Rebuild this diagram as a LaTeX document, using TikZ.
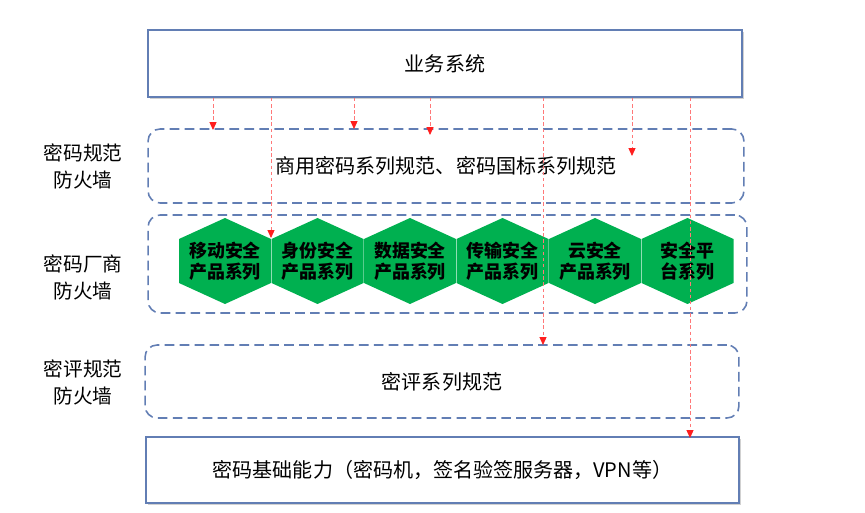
\documentclass[tikz,border=0pt]{standalone}
\usepackage{fontspec}
\setmainfont{Noto Sans CJK SC}
\usetikzlibrary{arrows.meta,shadows}
\definecolor{boxblue}{RGB}{98,126,180}
\definecolor{hexgreen}{RGB}{0,176,80}
\definecolor{arrowred}{RGB}{255,30,30}

\begin{document}
\begin{tikzpicture}[x=0.02cm,y=-0.02cm,font=\fontsize{11.4}{15}\selectfont]
    \tikzset{
        sysbox/.style={draw=boxblue,line width=1pt,fill=white,
            drop shadow={shadow xshift=1.2pt,shadow yshift=-1.2pt,opacity=0.3,fill=black!60}},
        fwbox/.style={draw=boxblue,line width=0.9pt,dash pattern=on 5.5pt off 3pt,
            rounded corners=0.24cm},
        fwlabel/.style={align=center,font=\fontsize{11.2}{15.5}\selectfont},
        hexlabel/.style={align=center,font=\fontsize{10.2}{12}\selectfont\bfseries},
        redflow/.style={draw=arrowred!60,dash pattern=on 2pt off 1.5pt,line width=0.5pt,
            -{Triangle[width=4pt,length=4.5pt,color=arrowred]}}
    }
    \useasboundingbox (0,0) rectangle (865,513);

    % layers
    \node[sysbox,minimum width=11.88cm,minimum height=1.34cm] (biz) at (445,63.5) {业务系统};
    \node[fwbox,minimum width=11.92cm,minimum height=1.48cm] (norm) at (446,166)
        {商用密码系列规范、密码国标系列规范};
    \node[fwbox,minimum width=11.98cm,minimum height=1.96cm] (vendor) at (447.5,264) {};
    \node[fwbox,minimum width=11.88cm,minimum height=1.46cm] (eval) at (442,381.5)
        {密评系列规范};
    \node[sysbox,minimum width=11.86cm,minimum height=1.32cm] (base) at (442.5,470)
        {密码基础能力（密码机，签名验签服务器，VPN等）};

    % firewall labels
    \node[fwlabel] (lnorm) at (83,166.5) {密码规范\\防火墙};
    \node[fwlabel] (lvendor) at (83,277.5) {密码厂商\\防火墙};
    \node[fwlabel] (leval) at (83,382.5) {密评规范\\防火墙};

    % product hexagons
    \foreach \i/\cx/\txt in {1/225/{移动安全\\产品系列},2/317.5/{身份安全\\产品系列},
        3/410/{数据安全\\产品系列},4/502.5/{传输安全\\产品系列},
        5/595/{云安全\\产品系列},6/687.5/{安全平\\台系列}} {
        \fill[hexgreen] (\cx,218) -- ++(46,21) -- ++(0,44) -- ++(-46,21)
            -- ++(-46,-21) -- ++(0,-44) -- cycle;
        \node[hexlabel] (hex\i) at (\cx,261) {\txt};
    }

    % calls from the business system
    \foreach \i/\x/\y in {1/213/130,2/271/238,3/354/129,4/430/135,
        5/543/345,6/632/156,7/690/438} {
        \coordinate (tip\i) at (\x,\y);
        \draw[redflow] (biz.south -| tip\i) -- (tip\i);
    }
\end{tikzpicture}
\end{document}
